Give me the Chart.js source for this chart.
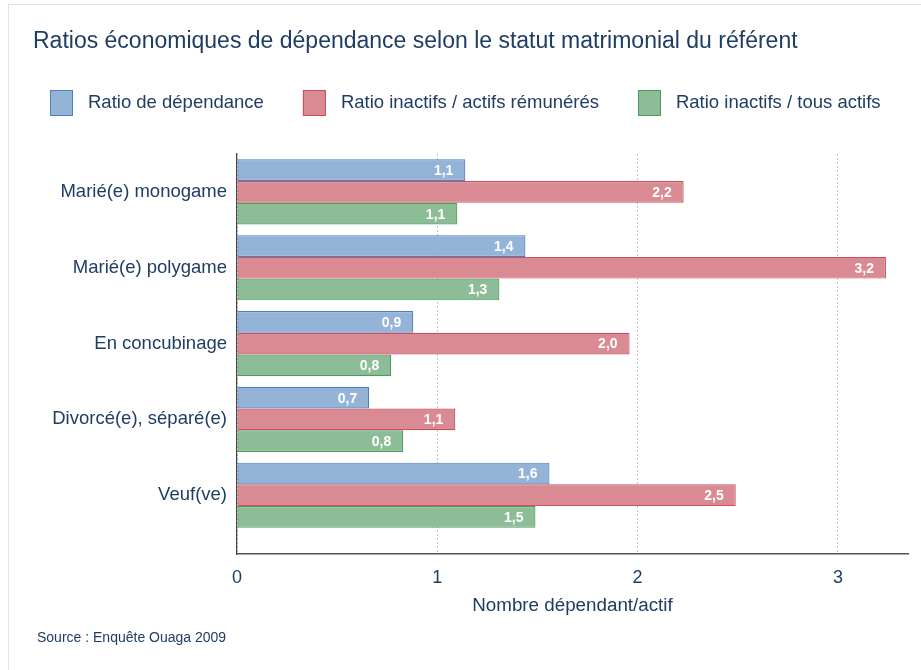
<!DOCTYPE html>
<html lang="fr">
<head>
<meta charset="utf-8">
<title>Ratios économiques de dépendance</title>
<script src="https://cdn.jsdelivr.net/npm/chart.js@4/dist/chart.umd.min.js"></script>
<style>
  html, body { margin: 0; padding: 0; background: #ffffff; }
  #wrap { position: relative; width: 921px; height: 670px; overflow: hidden; }
  #card { position: absolute; left: 8px; top: 4px; width: 1200px; height: 1200px;
          border-left: 1px solid #e4e4e4; border-top: 1px solid #e4e4e4; }
  #chart { position: absolute; left: 0; top: 0; }
</style>
</head>
<body>
<div id="wrap">
  <div id="card"></div>
  <canvas id="chart" width="921" height="670"></canvas>
</div>
<script>
// Statut matrimonial du référent
const categories = ['Marié(e) monogame', 'Marié(e) polygame', 'En concubinage', 'Divorcé(e), séparé(e)', 'Veuf(ve)'];
const seriesNames = ['Ratio de dépendance', 'Ratio inactifs / actifs rémunérés', 'Ratio inactifs / tous actifs'];
// Nombre de dépendants par actif
const ratioDependance = [1.14, 1.44, 0.88, 0.66, 1.56];
const ratioActifsRemuneres = [2.23, 3.24, 1.96, 1.09, 2.49];
const ratioTousActifs = [1.10, 1.31, 0.77, 0.83, 1.49];
const xTicks = [0, 1, 2, 3];

const chartTitle = 'Ratios économiques de dépendance selon le statut matrimonial du référent';
const xTitle = 'Nombre dépendant/actif';
const sourceText = 'Source : Enquête Ouaga 2009';

const FONT = '"Liberation Sans", Arial, Helvetica, sans-serif';
const INK = '#1f3d63';
const fills = ['#93b3d7', '#d98a93', '#8dbd96'];
const strokes = ['#4f7fc0', '#c9505c', '#4f9a5e'];
const seriesValues = [ratioDependance, ratioActifsRemuneres, ratioTousActifs];

// Title, legend and source note drawn on the canvas
const decorations = {
  id: 'decorations',
  afterDraw(chart) {
    const ctx = chart.ctx;
    ctx.save();
    ctx.fillStyle = INK;
    ctx.textBaseline = 'middle';
    ctx.textAlign = 'left';
    ctx.font = '23px ' + FONT;
    ctx.fillText(chartTitle, 33, 42);

    ctx.font = '18.5px ' + FONT;
    let x = 50;
    chart.data.datasets.forEach((ds) => {
      ctx.fillStyle = ds.backgroundColor;
      ctx.fillRect(x, 90, 23, 26);
      ctx.strokeStyle = ds.borderColor;
      ctx.lineWidth = 1;
      ctx.strokeRect(x + 0.5, 90.5, 22, 25);
      ctx.fillStyle = INK;
      ctx.fillText(ds.label, x + 38, 103);
      x += 38 + ctx.measureText(ds.label).width + 39;
    });

    ctx.font = '14px ' + FONT;
    ctx.fillText(sourceText, 37, 638);
    ctx.restore();
  }
};

// Value written inside the end of each bar
const barValues = {
  id: 'barValues',
  afterDatasetsDraw(chart) {
    const ctx = chart.ctx;
    ctx.save();
    ctx.fillStyle = '#ffffff';
    ctx.font = 'bold 14px ' + FONT;
    ctx.textAlign = 'right';
    ctx.textBaseline = 'middle';
    chart.data.datasets.forEach((ds, di) => {
      chart.getDatasetMeta(di).data.forEach((bar, i) => {
        const label = ds.data[i].toFixed(1).replace('.', ',');
        ctx.fillText(label, bar.x - 12, bar.y + 1);
      });
    });
    ctx.restore();
  }
};

new Chart(document.getElementById('chart'), {
  type: 'bar',
  data: {
    labels: categories,
    datasets: seriesNames.map((name, i) => ({
      label: name,
      data: seriesValues[i],
      backgroundColor: fills[i],
      borderColor: strokes[i],
      borderWidth: 1.2,
      borderSkipped: false,
      barPercentage: 1,
      categoryPercentage: 0.86
    }))
  },
  options: {
    indexAxis: 'y',
    responsive: false,
    animation: false,
    devicePixelRatio: 1,
    layout: { padding: { top: 154, right: 13, bottom: 0, left: 0 } },
    plugins: {
      legend: { display: false },
      title: { display: false },
      tooltip: { enabled: false }
    },
    scales: {
      x: {
        type: 'linear',
        min: 0,
        max: 3.35,
        afterFit(scale) { scale.height = 116; },
        afterBuildTicks(scale) { scale.ticks = xTicks.map(v => ({ value: v })); },
        ticks: {
          stepSize: 1,
          includeBounds: false,
          padding: 13,
          color: INK,
          font: { family: FONT, size: 18 }
        },
        grid: { color: '#c4c4c4', lineWidth: 1, drawTicks: false },
        border: { color: '#555555', width: 1.5, dash: [2, 2] },
        title: {
          display: true,
          text: xTitle,
          color: INK,
          font: { family: FONT, size: 18.8 },
          padding: { top: 0, bottom: 53 }
        }
      },
      y: {
        type: 'category',
        offset: true,
        afterFit(scale) { scale.width = 237; },
        // leave a little empty room below the last group
        afterBuildTicks(scale) { scale._valueRange = 5.275; },
        ticks: {
          padding: 10,
          color: INK,
          font: { family: FONT, size: 18.5 }
        },
        grid: { display: false, drawTicks: false },
        border: { color: '#444444', width: 1.2 }
      }
    }
  },
  plugins: [decorations, barValues]
});
</script>
</body>
</html>
